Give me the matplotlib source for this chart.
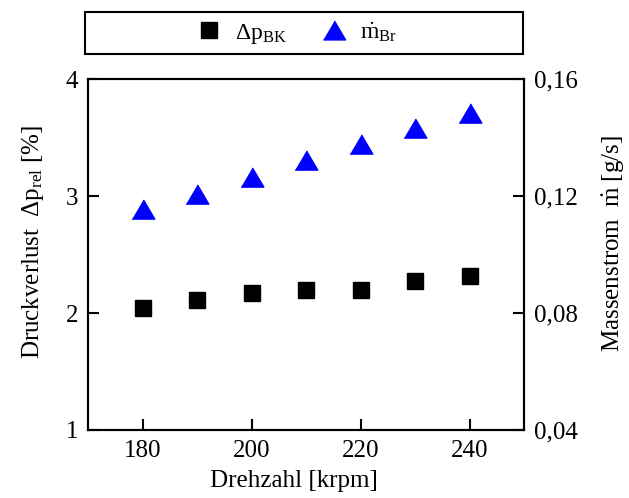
import matplotlib
matplotlib.use("Agg")
import matplotlib.pyplot as plt
from matplotlib.patches import Rectangle
from matplotlib.lines import Line2D

# Daten
drehzahl = [180, 190, 200, 210, 220, 230, 240]          # krpm
dp_bk = [2.045, 2.108, 2.171, 2.194, 2.199, 2.276, 2.316]  # %
m_br = [0.1156, 0.1207, 0.1265, 0.1323, 0.1379, 0.1432, 0.1484]  # g/s

x_ticks = [180, 200, 220, 240]
y_ticks_links = [1, 2, 3, 4]
y_ticks_rechts = [0.04, 0.08, 0.12, 0.16]
y_labels_rechts = ["0,04", "0,08", "0,12", "0,16"]

plt.rcParams["font.family"] = ["Liberation Serif", "DejaVu Serif"]
plt.rcParams["mathtext.fontset"] = "custom"
plt.rcParams["mathtext.rm"] = "Liberation Serif"
plt.rcParams["mathtext.it"] = "Liberation Serif:italic"
plt.rcParams["font.size"] = 18

# etwas breiteres Dreieck als Marker
dreieck = [(-1, -0.85), (1, -0.85), (0, 0.85)]

fig = plt.figure(figsize=(6.29, 4.98), dpi=100)
ax = fig.add_axes([88 / 629, 1 - 430 / 498, 436 / 629, 351 / 498])
ax2 = ax.twinx()

ax.plot(drehzahl, dp_bk, ls="none", marker="s", ms=12, color="black")
ax2.plot(drehzahl, m_br, ls="none", marker=dreieck, ms=16.3, color="#0000ff")

ax.set_xlim(170, 250)
ax.set_ylim(1, 4)
ax2.set_ylim(0.04, 0.16)
ax.set_xticks(x_ticks)
ax.set_yticks(y_ticks_links)
ax2.set_yticks(y_ticks_rechts)
ax2.set_yticklabels(y_labels_rechts)

for a in (ax, ax2):
    for s in a.spines.values():
        s.set_linewidth(1.5)
    a.tick_params(direction="in", length=8, width=1.5, pad=7)

ax.set_xlabel("Drehzahl [krpm]", labelpad=6)
ax.set_ylabel(r"Druckverlust$\ \ \Delta\mathrm{p}_\mathrm{rel}\ $[%]", labelpad=14)
ax2.set_ylabel(r"Massenstrom$\ \ \dot{\mathrm{m}}\ $[g/s]", labelpad=16)
ax.xaxis.label.set_x(0.472)
ax.yaxis.label.set_y(0.535)
ax2.yaxis.label.set_y(0.53)

# Legende oben mit Rahmen
fig.patches.append(Rectangle((85 / 629, 1 - 54 / 498), 438 / 629, 41.5 / 498,
                             transform=fig.transFigure, fill=False,
                             edgecolor="black", linewidth=1.5))
handles = [
    Line2D([], [], ls="none", marker="s", ms=11.5, color="black"),
    Line2D([], [], ls="none", marker=dreieck, ms=16, color="#0000ff"),
]
fig.legend(handles, [r"$\Delta\mathrm{p}_\mathrm{BK}$", r"$\dot{\mathrm{m}}_\mathrm{Br}$"],
           loc="center", bbox_to_anchor=(297 / 629, 1 - 33 / 498), ncol=2,
           frameon=False, fontsize=17, handletextpad=0.6, columnspacing=1.5,
           handlelength=1.0)

fig.savefig("out.png", dpi=100)
